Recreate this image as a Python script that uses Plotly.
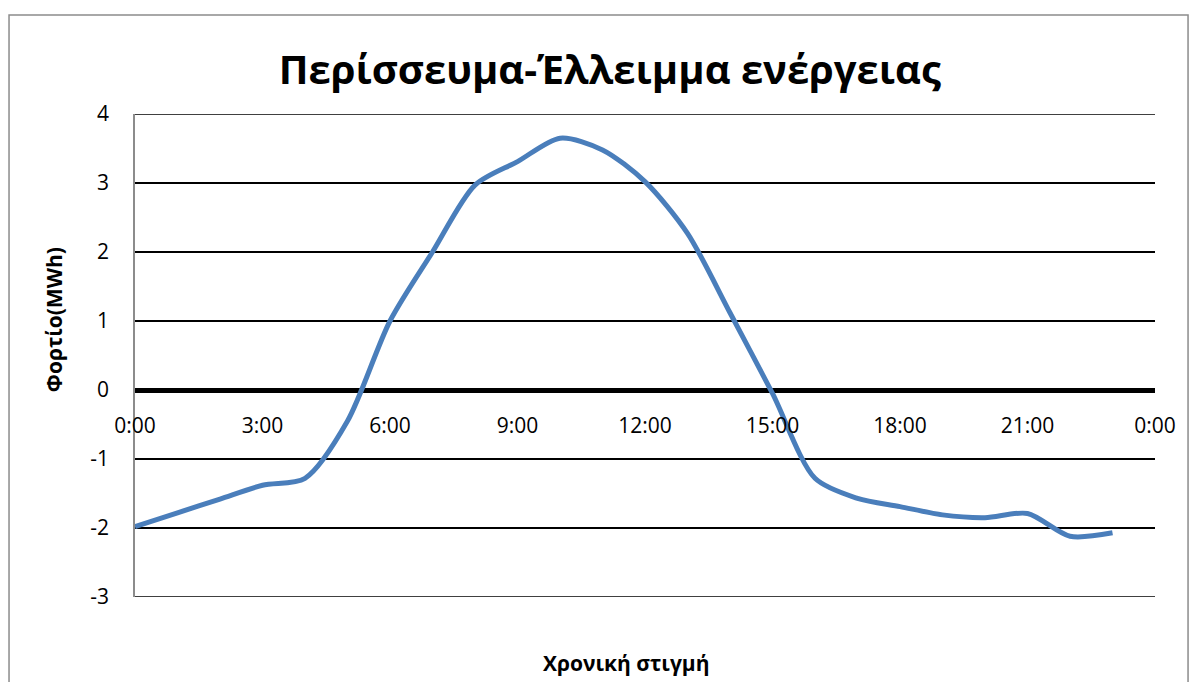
import plotly.graph_objects as go

# Hourly energy surplus / deficit (MWh)
hours = list(range(24))
load_mwh = [-1.98, -1.78, -1.58, -1.38, -1.28, -0.45, 1.00, 2.00, 2.97, 3.31,
            3.65, 3.48, 3.02, 2.27, 1.12, -0.05, -1.28, -1.57, -1.69, -1.81,
            -1.85, -1.79, -2.12, -2.07]

x_tick_vals = [0, 3, 6, 9, 12, 15, 18, 21, 24]
x_tick_text = ["0:00", "3:00", "6:00", "9:00", "12:00", "15:00", "18:00", "21:00", "0:00"]
y_tick_vals = [-3, -2, -1, 0, 1, 2, 3, 4]
y_tick_text = ["-3", "-2", "-1", "0", "1", "2", "3", "4"]

FONT = "Open Sans"

fig = go.Figure()
fig.add_trace(go.Scatter(
    x=hours, y=load_mwh, mode="lines",
    line=dict(color="#4a7ebb", width=5, shape="spline", smoothing=0.8),
    hoverinfo="x+y", showlegend=False,
))

y_min, y_max = y_tick_vals[0], y_tick_vals[-1]
zero_pos = (0 - y_min) / (y_max - y_min)

# gridlines at the range ends are drawn explicitly
edge_lines = [
    dict(type="line", xref="paper", yref="y", x0=0, x1=1, y0=v, y1=v,
         line=dict(color="black", width=1.5), layer="below")
    for v in (y_min, y_max)
]

fig.update_layout(
    width=1198, height=682,
    margin=dict(l=135, r=43, t=114, b=85),
    paper_bgcolor="white", plot_bgcolor="white",
    title=dict(text="<b>Περίσσευμα-Έλλειμμα ενέργειας</b>",
               x=0.509, xanchor="center", y=0.897, yanchor="middle",
               font=dict(family=FONT, size=40, color="black")),
    xaxis=dict(range=[0, 24], tickvals=x_tick_vals, ticktext=x_tick_text,
               showgrid=False, zeroline=False, showline=False, ticks="",
               anchor="free", position=zero_pos, ticklabelstandoff=21,
               tickfont=dict(family=FONT, size=21, color="black")),
    yaxis=dict(range=[y_min, y_max], tickvals=y_tick_vals,
               ticktext=y_tick_text,
               showgrid=True, gridcolor="black", gridwidth=1.5,
               zeroline=True, zerolinecolor="black", zerolinewidth=5,
               showline=True, linecolor="#8c8c8c", linewidth=1.5,
               ticks="", ticklabelstandoff=20,
               tickfont=dict(family=FONT, size=21, color="black")),
    annotations=[
        dict(text="<b>Χρονική στιγμή</b>", xref="paper", yref="paper",
             x=0.481, y=-0.137, xanchor="center", yanchor="middle", showarrow=False,
             font=dict(family=FONT, size=21, color="black")),
        dict(text="<b>Φορτίο(MWh)</b>", xref="paper", yref="paper",
             x=-0.08, y=0.574, xanchor="center", yanchor="middle", showarrow=False,
             textangle=-90, font=dict(family=FONT, size=21, color="black")),
    ],
    shapes=[
        dict(type="rect", xref="paper", yref="paper",
             x0=-0.1235, x1=1.0324, y0=-0.2, y1=1.205,
             line=dict(color="#8c8c8c", width=1.5), fillcolor="rgba(0,0,0,0)",
             layer="below"),
    ] + edge_lines,
)

fig.write_html("out.html")
